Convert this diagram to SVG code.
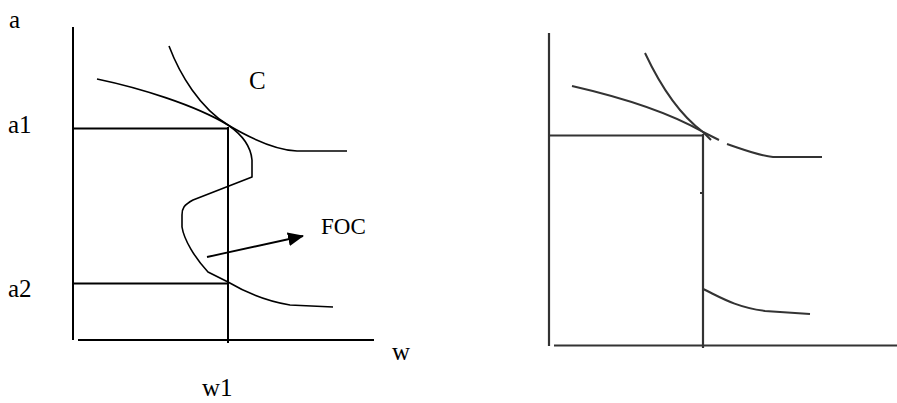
<svg xmlns="http://www.w3.org/2000/svg" width="897" height="403" viewBox="0 0 897 403">
<style>
.ax{stroke:#000;stroke-width:2;fill:none}
.cv{stroke:#000;stroke-width:1.6;fill:none;stroke-linejoin:round}
.ax2{stroke:#333;stroke-width:2.2;fill:none}
.cv2{stroke:#333;stroke-width:2;fill:none;stroke-linejoin:round}
.lb{font-family:"Liberation Serif","Times New Roman",serif;font-size:25px;fill:#000}
.sm{font-family:"Liberation Serif","Times New Roman",serif;font-size:23px;fill:#000}
</style>
<defs>
<marker id="ah" markerWidth="16" markerHeight="14" refX="15" refY="7" orient="auto" markerUnits="userSpaceOnUse">
<path d="M0,0 L16,7 L0,14 Z" fill="#000"/>
</marker>
</defs>
<g id="left-panel">
<g id="left-axes">
<line class="ax" x1="73" y1="27" x2="73" y2="340"/>
<line class="ax" x1="78" y1="340" x2="374" y2="340"/>
<line class="ax" x1="73" y1="128.5" x2="228" y2="128.5"/>
<line class="ax" x1="73" y1="283.5" x2="228" y2="283.5"/>
<line class="ax" x1="228" y1="127" x2="228" y2="343"/>
</g>
<g id="left-curves">
<path class="cv" d="M97,79 C140,88 195,105 228,125 C250,138 275,150 297,151 L347,151"/>
<path class="cv" d="M169,46 C180,75 200,108 228,125 C244,136 251,148 252,160 L252,177 L193,200 C184,205 182,208 182,215 L182,227 C184,240 195,258 208,272 L228,282 C245,292 265,301 290,305 L333,307"/>
</g>
<g id="left-labels">
<text class="lb" x="9" y="28">a</text>
<text class="lb" x="8" y="133">a1</text>
<text class="lb" x="8" y="297">a2</text>
<text class="lb" x="249" y="89">C</text>
<text class="sm" x="321" y="234">FOC</text>
<text class="lb" x="392" y="360">w</text>
<text class="lb" x="202" y="396">w1</text>
</g>
</g>
<g id="connectors">
<line x1="207" y1="257" x2="303" y2="236" stroke="#000" stroke-width="1.8" marker-end="url(#ah)"/>
</g>
<g id="right-panel">
<line class="ax2" x1="549" y1="33" x2="549" y2="346"/>
<line class="ax2" x1="554" y1="345.5" x2="897" y2="345.5"/>
<line class="ax2" x1="549" y1="135.5" x2="703" y2="135.5"/>
<line class="ax2" x1="703" y1="134" x2="703" y2="348"/>
<path class="cv2" d="M645,53 C660,85 680,115 703,132 L711,140"/>
<path class="cv2" d="M572,86 C620,97 670,113 703,132 L719,140"/>
<path class="cv2" d="M727,144 C745,150 760,156 773,157 L822,157"/>
<path class="cv2" d="M703,289 C720,297 735,307 765,311 L810,314"/>
<rect x="700" y="192" width="2" height="2" fill="#333"/>
</g>
</svg>
